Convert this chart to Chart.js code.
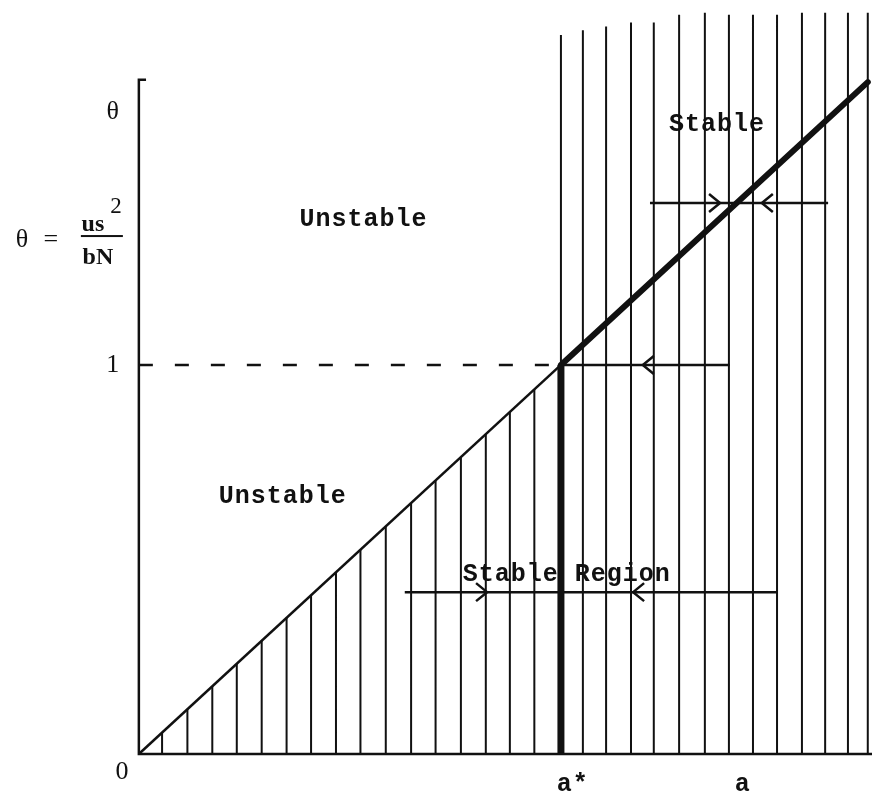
<!DOCTYPE html>
<html>
<head>
<meta charset="utf-8">
<script src="https://cdn.jsdelivr.net/npm/chart.js@4/dist/chart.umd.min.js"></script>
<style>
  html, body { margin: 0; padding: 0; background: #fff; }
  canvas { display: block; }
</style>
</head>
<body>
<canvas id="stabilityChart" width="872" height="796"></canvas>
<script>
// a is measured in units of a*, theta = us^2 / bN
const aStar = 1;
const thetaOne = 1;
const lineEnd = 1.727;
const axisTop = 1.733;

// hatching (left of a* stops at the boundary line)
const hatchLeftX = [0.055, 0.115, 0.174, 0.232, 0.291, 0.350, 0.408, 0.467, 0.525, 0.585, 0.645, 0.703, 0.763, 0.822, 0.879, 0.937];
const hatchRightX = [1.052, 1.107, 1.166, 1.220, 1.280, 1.341, 1.398, 1.455, 1.512, 1.571, 1.626, 1.680, 1.727];
const hatchRightTop = [1.860, 1.870, 1.880, 1.880, 1.900, 1.905, 1.900, 1.900, 1.900, 1.905, 1.905, 1.905, 1.905];
const aStarTop = 1.848;

// arrows: level, start, end, and arrowhead tips
const arrowLevels = [1.0, 1.416, 0.416];
const arrowStart = [1.0, 1.211, 0.630];
const arrowEnd = [1.40, 1.633, 1.512];
const arrowTips = [
  { x: 1.194, y: 1.0, dir: -1 },
  { x: 1.377, y: 1.416, dir: 1 },
  { x: 1.476, y: 1.416, dir: -1 },
  { x: 0.825, y: 0.416, dir: 1 },
  { x: 1.171, y: 0.416, dir: -1 }
];

const mono = 'bold 25px "Liberation Mono"';
const serif = '26px "Liberation Serif"';
const labels = [
  { text: 'Unstable', x: 0.532, y: 1.373, font: mono },
  { text: 'Unstable', x: 0.341, y: 0.661, font: mono },
  { text: 'Stable', x: 1.370, y: 1.617, font: mono },
  { text: 'Stable Region', x: 1.014, y: 0.460, font: mono },
  { text: 'a*', x: 1.028, y: -0.080, font: mono },
  { text: 'a', x: 1.431, y: -0.080, font: mono },
  { text: 'θ', x: -0.062, y: 1.650, font: serif },
  { text: '1', x: -0.062, y: 1.0, font: serif },
  { text: '0', x: -0.040, y: -0.046, font: serif }
];
const formulaAnchor = { x: -0.289, y: 1.321 };

const ink = '#111';

function segments(xs, bottoms, tops) {
  const pts = [];
  xs.forEach((x, i) => {
    pts.push({ x: x, y: bottoms[i] });
    pts.push({ x: x, y: tops[i] });
    pts.push({ x: x, y: null });
  });
  return pts;
}

function lineSet(data, width, extra) {
  return Object.assign({
    data: data,
    showLine: true,
    borderColor: ink,
    borderWidth: width,
    pointRadius: 0,
    fill: false,
    spanGaps: false,
    borderCapStyle: 'butt'
  }, extra || {});
}

const textPlugin = {
  id: 'textPlugin',
  beforeDatasetsDraw(chart) {
    const { ctx, scales: { x, y } } = chart;
    ctx.save();
    ctx.fillStyle = ink;
    ctx.textAlign = 'center';
    ctx.textBaseline = 'middle';
    labels.forEach(l => {
      ctx.font = l.font;
      ctx.letterSpacing = l.font === mono ? '1px' : '0px';
      ctx.fillText(l.text, x.getPixelForValue(l.x), y.getPixelForValue(l.y));
    });
    ctx.letterSpacing = '0px';
    // theta = us^2 / bN
    const px = x.getPixelForValue(formulaAnchor.x);
    const py = y.getPixelForValue(formulaAnchor.y);
    ctx.font = serif;
    ctx.fillText('θ', px + 5, py);
    ctx.fillText('=', px + 34, py);
    ctx.font = 'bold 24px "Liberation Serif"';
    ctx.fillText('us', px + 76, py - 15);
    ctx.fillText('bN', px + 81, py + 18);
    ctx.font = '23px "Liberation Serif"';
    ctx.fillText('2', px + 99, py - 33);
    ctx.fillRect(px + 64, py - 5, 42, 2);
    ctx.restore();
  },
  afterDatasetsDraw(chart) {
    const { ctx, scales: { x, y } } = chart;
    ctx.save();
    ctx.strokeStyle = ink;
    ctx.lineWidth = 2.5;
    arrowTips.forEach(t => {
      const tx = x.getPixelForValue(t.x);
      const ty = y.getPixelForValue(t.y);
      ctx.beginPath();
      ctx.moveTo(tx - t.dir * 11, ty - 9);
      ctx.lineTo(tx, ty);
      ctx.lineTo(tx - t.dir * 11, ty + 9);
      ctx.stroke();
    });
    ctx.restore();
  }
};

const arrowData = [];
arrowLevels.forEach((lv, i) => {
  arrowData.push({ x: arrowStart[i], y: lv });
  arrowData.push({ x: arrowEnd[i], y: lv });
  arrowData.push({ x: arrowEnd[i], y: null });
});

const ctx = document.getElementById('stabilityChart').getContext('2d');

new Chart(ctx, {
  type: 'scatter',
  data: {
    datasets: [
      lineSet([{ x: 0.017, y: axisTop }, { x: 0, y: axisTop }, { x: 0, y: 0 }, { x: 1.74, y: 0 }], 2.5),
      lineSet(segments(hatchLeftX, hatchLeftX.map(() => 0), hatchLeftX), 2),
      lineSet(segments(hatchRightX, hatchRightX.map(() => 0), hatchRightTop), 2),
      lineSet([{ x: aStar, y: thetaOne }, { x: aStar, y: aStarTop }], 2),
      lineSet([{ x: aStar, y: 0 }, { x: aStar, y: thetaOne }], 7),
      lineSet([{ x: 0, y: 0 }, { x: aStar, y: thetaOne }], 2.5),
      lineSet([{ x: aStar, y: thetaOne }, { x: lineEnd, y: lineEnd }], 6, { borderCapStyle: 'round' }),
      lineSet([{ x: 0, y: thetaOne }, { x: aStar, y: thetaOne }], 2.5, { borderDash: [14, 22] }),
      lineSet(arrowData, 2.5)
    ]
  },
  options: {
    responsive: false,
    animation: false,
    events: [],
    layout: { padding: 0 },
    plugins: { legend: { display: false }, tooltip: { enabled: false } },
    scales: {
      x: { type: 'linear', min: -0.329, max: 1.737, display: false },
      y: { type: 'linear', min: -0.108, max: 1.938, display: false }
    }
  },
  plugins: [textPlugin]
});
</script>
</body>
</html>
